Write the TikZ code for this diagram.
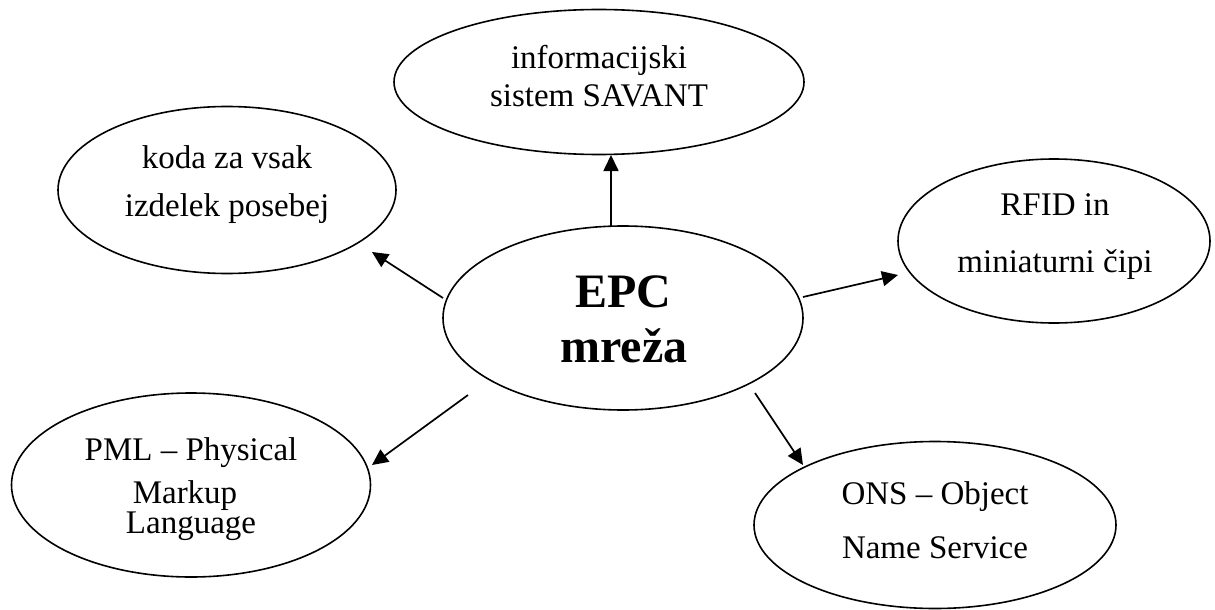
\documentclass[tikz,border=0pt]{standalone}
\usepackage{fontspec}
\setmainfont{Liberation Serif}
\usetikzlibrary{arrows.meta,shapes.geometric}
\begin{document}
\begin{tikzpicture}[x=1pt,y=-1pt,
  bubble/.style={draw, line width=1.6pt, ellipse, inner sep=0pt},
  txt/.style={anchor=base, inner sep=0pt, font=\fontsize{33}{40}\selectfont},
  big/.style={anchor=base, inner sep=0pt, font=\fontsize{48}{56}\selectfont\bfseries},
  arr/.style={line width=1.7pt, -{Triangle[length=16pt,width=15pt]}}]
\useasboundingbox (0,0) rectangle (1215,610);
% ellipses
\node[bubble, minimum width=410pt, minimum height=145pt] (sav) at (599,82) {};
\node[bubble, minimum width=338pt, minimum height=167pt] (koda) at (227,190) {};
\node[bubble, minimum width=360pt, minimum height=184pt] (epc) at (623,318) {};
\node[bubble, minimum width=312pt, minimum height=164pt] (rfid) at (1054,241) {};
\node[bubble, minimum width=359pt, minimum height=184pt] (pml) at (191,485) {};
\node[bubble, minimum width=362pt, minimum height=167pt] (ons) at (935,525) {};
% texts
\node[txt] (sav1) at (599,68) {informacijski};
\node[txt] (sav2) at (599,106) {sistem SAVANT};
\node[txt] (koda1) at (227,168) {koda za vsak};
\node[txt] (koda2) at (227,216) {izdelek posebej};
\node[big] (epc1) at (623,307) {EPC};
\node[big] (epc2) at (624,362) {mreža};
\node[txt] (rfid1) at (1055,215) {RFID in};
\node[txt] (rfid2) at (1055,272) {miniaturni čipi};
\node[txt] (pml1) at (191,460) {PML – Physical};
\node[txt] (pml2) at (185,503) {Markup};
\node[txt] (pml3) at (191,533) {Language};
\node[txt] (ons1) at (935,504) {ONS – Object};
\node[txt] (ons2) at (935,558) {Name Service};
% connector end points
\coordinate (s1) at (611,226);
\coordinate (e1) at (611,155);
\coordinate (s2) at (443,298);
\coordinate (e2) at (372,252);
\coordinate (s3) at (803,297);
\coordinate (e3) at (898,275);
\coordinate (s4) at (468,395);
\coordinate (e4) at (372,465);
\coordinate (s5) at (755,393);
\coordinate (e5) at (803,465);
\draw[arr] (s1) -- (e1);
\draw[arr] (s2) -- (e2);
\draw[arr] (s3) -- (e3);
\draw[arr] (s4) -- (e4);
\draw[arr] (s5) -- (e5);
\end{tikzpicture}
\end{document}
